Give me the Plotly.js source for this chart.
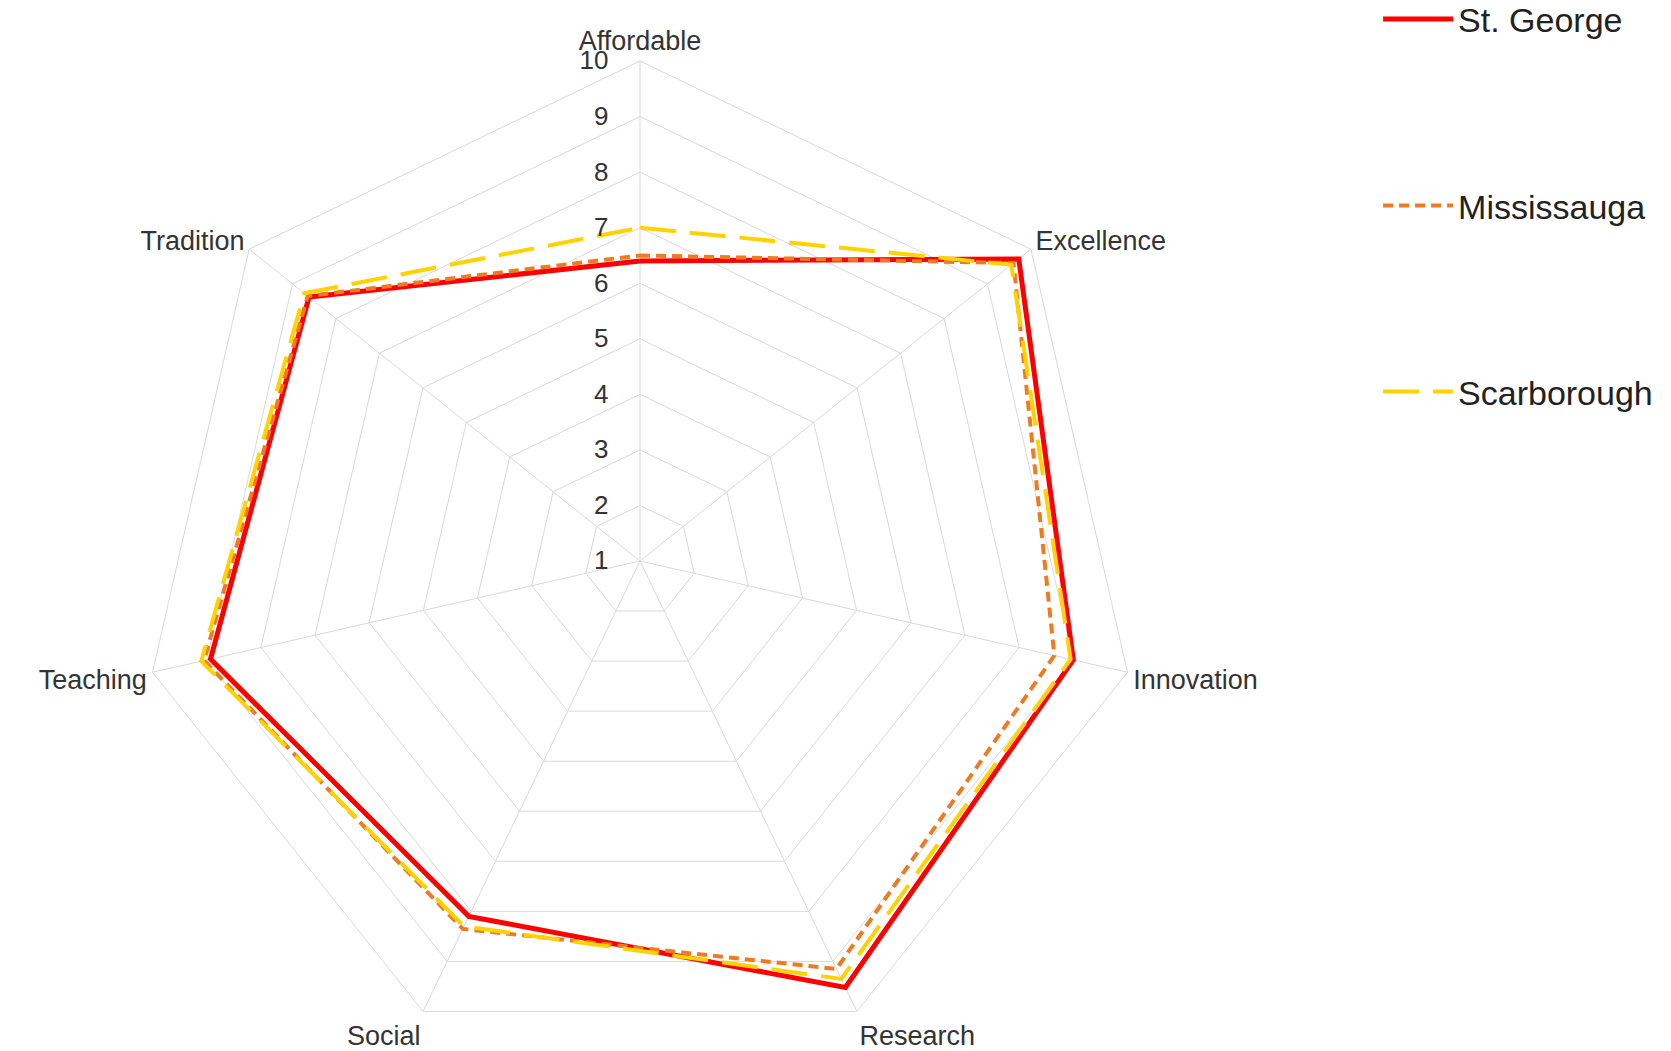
<!DOCTYPE html>
<html>
<head>
<meta charset="utf-8">
<script src="https://cdn.plot.ly/plotly-3.0.1.min.js"></script>
<style>
  html, body { margin: 0; padding: 0; overflow: hidden; background: #fff; }
  #chart { width: 1671px; height: 1090px; }
</style>
</head>
<body>
<div id="chart"></div>
<script>
// Categories, clockwise from top
var categories = ["Affordable", "Excellence", "Innovation", "Research", "Social", "Teaching", "Tradition"];
var stGeorge    = [6.4, 9.72, 9.0, 9.52, 8.1, 8.93, 8.62];
var mississauga = [6.5, 9.6, 8.65, 9.15, 8.35, 9.05, 8.65];
var scarborough = [7.0, 9.55, 8.95, 9.35, 8.3, 9.1, 8.73];
var radialTicks = [1, 2, 3, 4, 5, 6, 7, 8, 9, 10];

function closed(arr) { return arr.concat([arr[0]]); }

var font = "Liberation Sans, Arial, sans-serif";
var textColor = "#333333";
var gridColor = "#d9d9d9";

var traces = [
  {
    type: "scatterpolar", mode: "lines", name: "St. George",
    r: closed(stGeorge), theta: closed(categories),
    line: { color: "#ff0000", width: 5 },
    legend: "legend"
  },
  {
    type: "scatterpolar", mode: "lines", name: "Mississauga",
    r: closed(mississauga), theta: closed(categories),
    line: { color: "#ee7b22", width: 4, dash: "10px,6px" },
    legend: "legend2"
  },
  {
    type: "scatterpolar", mode: "lines", name: "Scarborough",
    r: closed(scarborough), theta: closed(categories),
    line: { color: "#ffd200", width: 4, dash: "36px,14px" },
    legend: "legend3"
  }
];

var legendBase = {
  x: 0.8247, xanchor: "left", yanchor: "middle",
  bgcolor: "rgba(0,0,0,0)", borderwidth: 0,
  font: { family: font, size: 34, color: "#222222" },
  itemwidth: 70
};

var layout = {
  width: 1671, height: 1090,
  margin: { l: 0, r: 0, t: 0, b: 0, autoexpand: false },
  paper_bgcolor: "#ffffff",
  showlegend: true,
  polar: {
    domain: { x: [140 / 1671, 1140 / 1671], y: [29 / 1090, 1029 / 1090] },
    bgcolor: "#ffffff",
    gridshape: "linear",
    angularaxis: {
      type: "category",
      categoryarray: categories,
      direction: "clockwise",
      rotation: 90,
      showline: true, linecolor: gridColor, linewidth: 1,
      showgrid: true, gridcolor: gridColor, gridwidth: 1,
      ticks: "",
      tickfont: { family: font, size: 27, color: textColor }
    },
    radialaxis: {
      range: [1, 10],
      angle: 90,
      side: "counterclockwise",
      tickmode: "array",
      tickvals: radialTicks,
      ticktext: radialTicks.map(String),
      showline: false,
      showgrid: true, gridcolor: gridColor, gridwidth: 1,
      ticks: "outside", ticklen: 22, tickcolor: "rgba(0,0,0,0)",
      tickangle: 90,
      tickfont: { family: font, size: 26, color: textColor }
    }
  },
  legend: Object.assign({}, legendBase, { y: 0.9821 }),
  legend2: Object.assign({}, legendBase, { y: 0.8110 }),
  legend3: Object.assign({}, legendBase, { y: 0.6404 })
};

Plotly.newPlot("chart", traces, layout, { displayModeBar: false, staticPlot: true });
</script>
</body>
</html>
